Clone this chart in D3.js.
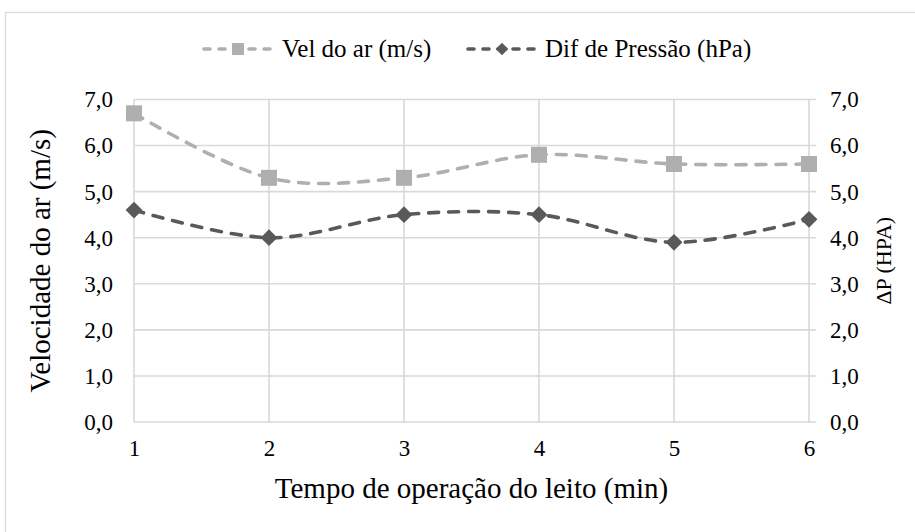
<!DOCTYPE html>
<html>
<head>
<meta charset="utf-8">
<script src="https://cdn.jsdelivr.net/npm/d3@7"></script>
<style>
  html, body { margin: 0; padding: 0; background: #fff; }
  svg { display: block; }
  svg text { font-family: "Liberation Serif", "Times New Roman", "DejaVu Serif", serif; fill: #000; }
</style>
</head>
<body>
<svg id="chart" width="915" height="532"></svg>
<script>
// Bed operating time (min)
const categories = [1, 2, 3, 4, 5, 6];
// Air velocity (m/s)
const velAr = [6.7, 5.3, 5.3, 5.8, 5.6, 5.6];
// Pressure difference (hPa)
const difPressao = [4.6, 4.0, 4.5, 4.5, 3.9, 4.4];
const yTicks = [0, 1, 2, 3, 4, 5, 6, 7];
const seriesNames = ["Vel do ar (m/s)", "Dif de Pressão (hPa)"];

const svg = d3.select("#chart");
const W = 915, H = 532;
const plot = { left: 134, right: 809, top: 99.5, bottom: 422 };

// Outer chart frame
svg.append("rect")
  .attr("x", 5.5).attr("y", 12.5)
  .attr("width", 940).attr("height", 560)
  .attr("fill", "none").attr("stroke", "#d9d9d9").attr("stroke-width", 1.3);

const x = d3.scalePoint().domain(categories).range([plot.left, plot.right]);
const yL = d3.scaleLinear().domain([0, 7]).range([plot.bottom, plot.top]);
const yR = d3.scaleLinear().domain([0, 7]).range([plot.bottom, plot.top]);

const fmt = d => d3.format(".1f")(d).replace(".", ",");

// Horizontal gridlines (extended to the right for the secondary axis ticks)
svg.append("g").selectAll("line").data(yTicks).join("line")
  .attr("x1", plot.left).attr("x2", plot.right + 7)
  .attr("y1", d => yL(d)).attr("y2", d => yL(d))
  .attr("stroke", "#d9d9d9").attr("stroke-width", 1.6);

// Vertical gridlines at each category
svg.append("g").selectAll("line").data(categories).join("line")
  .attr("x1", d => x(d)).attr("x2", d => x(d))
  .attr("y1", yL(7)).attr("y2", yL(0))
  .attr("stroke", "#d9d9d9").attr("stroke-width", 1.6);

function styleAxis(g) {
  g.select(".domain").remove();
  g.attr("font-family", null);
  g.selectAll("text").attr("font-size", 23).attr("fill", "#000");
}

// Left axis labels
const gL = svg.append("g").attr("transform", `translate(${plot.left},0)`)
  .call(d3.axisLeft(yL).tickValues(yTicks).tickFormat(fmt).tickSize(0).tickPadding(21));
styleAxis(gL);

// Right axis labels
const gR = svg.append("g").attr("transform", `translate(${plot.right},0)`)
  .call(d3.axisRight(yR).tickValues(yTicks).tickFormat(fmt).tickSize(0).tickPadding(21));
styleAxis(gR);

// Bottom axis labels
const gB = svg.append("g").attr("transform", `translate(0,${plot.bottom})`)
  .call(d3.axisBottom(x).tickSize(0).tickPadding(18));
styleAxis(gB);

// Axis titles
svg.append("text")
  .attr("x", (plot.left + plot.right) / 2).attr("y", 498)
  .attr("text-anchor", "middle").attr("font-size", 29)
  .text("Tempo de operação do leito (min)");
svg.append("text")
  .attr("transform", `translate(50,${yL(3.5)}) rotate(-90)`)
  .attr("text-anchor", "middle").attr("font-size", 29)
  .text("Velocidade do ar (m/s)");
svg.append("text")
  .attr("transform", `translate(891,${yR(3.5)}) rotate(-90)`)
  .attr("text-anchor", "middle").attr("font-size", 22)
  .text("ΔP (HPA)");

// Series
const curve = d3.curveCardinal.tension(0);
const series = [
  { name: seriesNames[0], values: velAr, scale: yL, color: "#afafaf", shape: "square" },
  { name: seriesNames[1], values: difPressao, scale: yR, color: "#595959", shape: "diamond" }
];

function marker(g, shape, color, r) {
  if (shape === "square") {
    g.append("rect").attr("x", -r).attr("y", -r).attr("width", 2 * r).attr("height", 2 * r).attr("fill", color);
  } else {
    const d = r * 1.05;
    g.append("path").attr("d", `M0,${-d}L${d},0L0,${d}L${-d},0Z`).attr("fill", color);
  }
}

series.forEach(s => {
  const line = d3.line().x((d, i) => x(categories[i])).y(d => s.scale(d)).curve(curve);
  svg.append("path").datum(s.values)
    .attr("d", line).attr("fill", "none")
    .attr("stroke", s.color).attr("stroke-width", 3.6)
    .attr("stroke-dasharray", "10,10").attr("stroke-linecap", "round");
  s.values.forEach((v, i) => {
    const g = svg.append("g").attr("transform", `translate(${x(categories[i])},${s.scale(v)})`);
    marker(g, s.shape, s.color, 8);
  });
});

// Legend
const legendItems = [
  { x0: 204, tx: 282 },
  { x0: 468, tx: 545 }
];
series.forEach((s, i) => {
  const L = legendItems[i];
  const ly = 49;
  svg.append("line").attr("x1", L.x0).attr("x2", L.x0 + 68).attr("y1", ly).attr("y2", ly)
    .attr("stroke", s.color).attr("stroke-width", 3.6)
    .attr("stroke-dasharray", "6,9").attr("stroke-linecap", "round");
  const g = svg.append("g").attr("transform", `translate(${L.x0 + 34},${ly})`);
  marker(g, s.shape, s.color, 6);
  svg.append("text").attr("x", L.tx).attr("y", 57).attr("font-size", 25).text(s.name);
});
</script>
</body>
</html>
